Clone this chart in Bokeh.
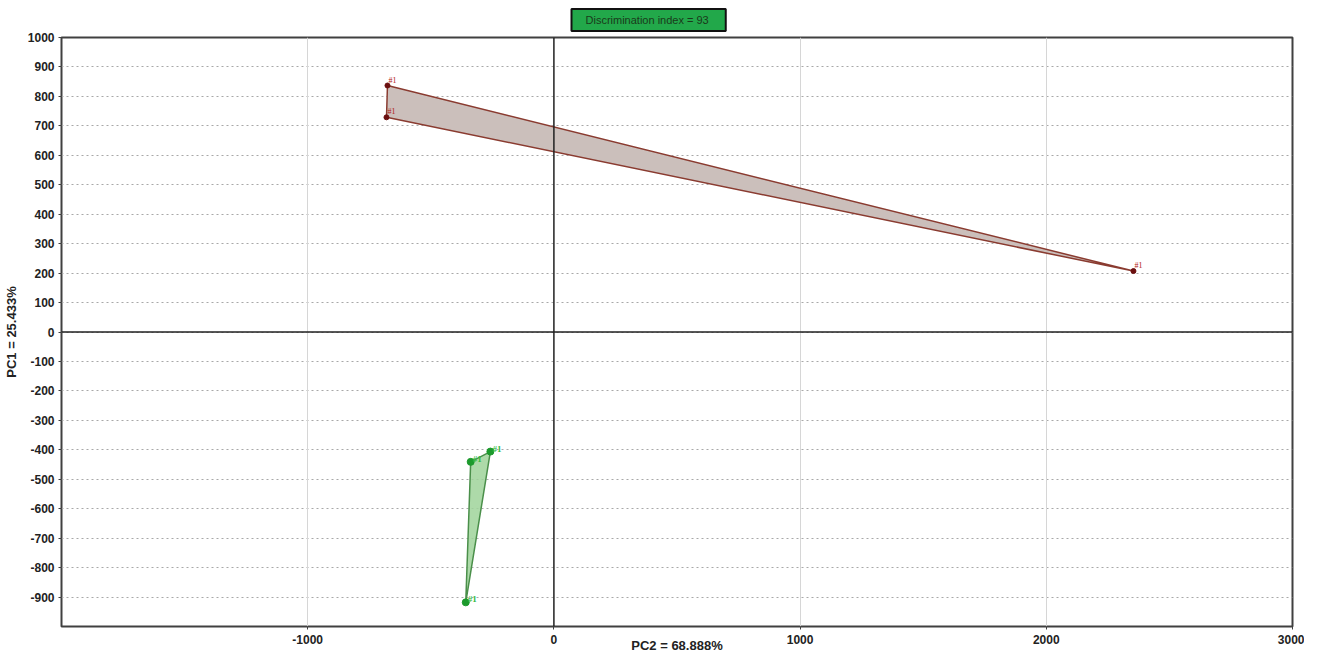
from bokeh.plotting import figure
from bokeh.models import FixedTicker, Span, Grid, LabelSet, ColumnDataSource, Title, CustomJSTickFormatter
from bokeh.embed import file_html
from bokeh.resources import INLINE

# Data
red_x = [-680, -676, 2354]
red_y = [729, 837, 207]
red_lab = ["#1", "#1", "#1"]
green_x = [-338, -258, -358]
green_y = [-441, -406, -918]
green_lab = ["#1", "#1", "#1"]
x_ticks = [-1000, 0, 1000, 2000, 3000]
y_ticks = list(range(-900, 1001, 100))
x_title = "PC2 = 68.888%"
y_title = "PC1 = 25.433%"
banner = "Discrimination index  = 93"

FONT = "Liberation Sans"

p = figure(width=1304, height=655, x_range=(-2000, 3000), y_range=(-1000, 1000),
           output_backend="svg", toolbar_location=None, title=None,
           min_border_left=55, min_border_right=12, min_border_top=0, min_border_bottom=20)
p.background_fill_color = "white"
p.outline_line_color = "#404040"
p.outline_line_width = 2

t = Title(text=banner, align="left", offset=510, standoff=13,
          text_font=FONT, text_font_size="11px", text_font_style="normal", text_color="#1a3a1a",
          background_fill_color="#22a84a", border_line_color="#111111", border_line_width=2,
          padding=dict(left=14, right=14, top=5, bottom=5))
p.add_layout(t, "above")

# grids
p.xgrid.visible = False
p.ygrid.ticker = FixedTicker(ticks=y_ticks)
p.ygrid.grid_line_color = "#a8a8a8"
p.ygrid.grid_line_dash = "2 3"
p.ygrid.grid_line_width = 1
vg = Grid(dimension=0, ticker=FixedTicker(ticks=[-1000, 1000, 2000]),
          grid_line_color="#d6d6d6", grid_line_width=1)
p.add_layout(vg)

fmt = CustomJSTickFormatter(code="return tick.toFixed(0);")
# axes
for ax in (p.xaxis[0], p.yaxis[0]):
    ax.axis_line_color = None
    ax.major_tick_line_color = "#404040"
    ax.major_tick_out = 3
    ax.major_tick_in = 0
    ax.minor_tick_line_color = None
    ax.major_label_text_font = FONT
    ax.major_label_text_font_style = "bold"
    ax.major_label_text_font_size = "12px"
    ax.major_label_text_color = "#222222"
    ax.axis_label_text_font = FONT
    ax.axis_label_text_font_style = "bold"
    ax.axis_label_text_font_size = "13px"
    ax.axis_label_text_color = "#222222"
    ax.formatter = fmt
p.xaxis.ticker = FixedTicker(ticks=x_ticks)
p.yaxis.ticker = FixedTicker(ticks=y_ticks)
p.xaxis.axis_label = x_title
p.yaxis.axis_label = y_title
p.xaxis.major_label_standoff = 5
p.yaxis.major_label_standoff = 4
p.xaxis.axis_label_standoff = -9
p.yaxis.axis_label_standoff = 6

# zero lines
p.add_layout(Span(location=0, dimension="width", line_color="#202020", line_width=1.5))
p.add_layout(Span(location=0, dimension="height", line_color="#202020", line_width=1.5))

# red group
p.patch(red_x, red_y, fill_color="#cbbfbb", fill_alpha=1.0, line_color="#8a3b30", line_width=1.5)
p.scatter(red_x, red_y, size=5, color="#6b0f0f")
rs = ColumnDataSource(dict(x=red_x, y=red_y, t=red_lab))
p.add_layout(LabelSet(x="x", y="y", text="t", source=rs, x_offset=1, y_offset=1,
                      text_font_size="8px", text_color="#b02020", text_font=FONT))

# green group
p.patch(green_x, green_y, fill_color="#9fd39a", fill_alpha=0.85, line_color="#4a8f4a", line_width=1.5)
p.scatter(green_x, green_y, size=7, color="#1c9a2c")
gs = ColumnDataSource(dict(x=green_x, y=green_y, t=green_lab))
p.add_layout(LabelSet(x="x", y="y", text="t", source=gs, x_offset=2, y_offset=-2,
                      text_font_size="9px", text_color="#33bb44", text_font=FONT,
                      text_font_style="bold"))

open("out.html", "w").write(file_html(p, INLINE))
